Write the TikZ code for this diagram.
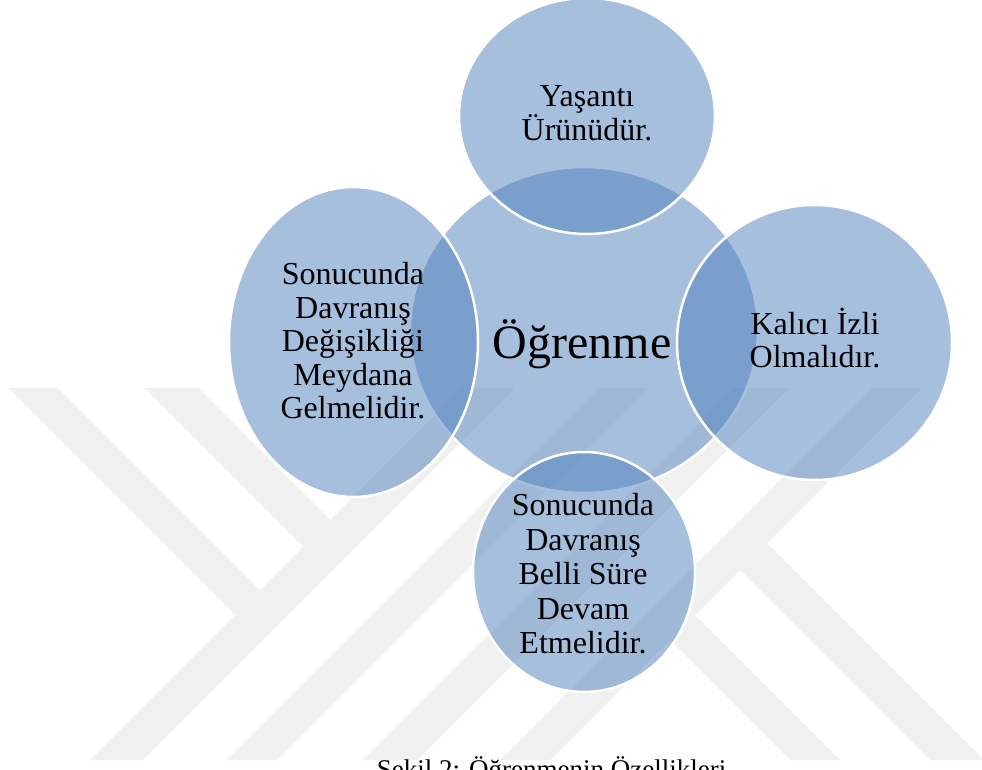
\documentclass[tikz,border=0pt]{standalone}
\usepackage{fontspec}
\setmainfont{Liberation Serif}
\usetikzlibrary{shapes.geometric}
\definecolor{bubblefill}{RGB}{79,129,189}
\definecolor{wmgray}{RGB}{240,240,240}
\begin{document}
\begin{tikzpicture}[x=1pt,y=-1pt,
  bubble/.style={ellipse, inner sep=0pt, fill=bubblefill, fill opacity=0.5,
                 draw=white, draw opacity=1, line width=2.5pt},
  lbl/.style={align=center, font=\fontsize{32}{33.5}\selectfont, text=black, inner sep=0pt},
  wmband/.style={fill=wmgray, draw=none}]
\clip (0,0) rectangle (982,770);
\fill[white] (0,0) rectangle (982,770);
% watermark
\begin{scope}
  \clip (0,388) rectangle (982,760);
  \fill[wmband] (8,388) -- (58,388) -- (260,590) -- (235,615) -- cycle;
  \fill[wmband] (145,388) -- (198,388) -- (330,520) -- (303.5,546.5) -- cycle;
  \fill[wmband] (462,388) -- (515,388) -- (143,760) -- (90,760) -- cycle;
  \fill[wmband] (599,388) -- (649,388) -- (277,760) -- (227,760) -- cycle;
  \fill[wmband] (735,388) -- (789,388) -- (417,760) -- (363,760) -- cycle;
  \fill[wmband] (872,388) -- (922,388) -- (550,760) -- (500,760) -- cycle;
  \fill[wmband] (767,543) -- (984,760) -- (930,760) -- (740,570) -- cycle;
  \fill[wmband] (695,615) -- (840,760) -- (790,760) -- (670,640) -- cycle;
\end{scope}
% bubbles
\node[bubble, minimum width=348pt, minimum height=326pt] (center) at (584,330) {};
\node[bubble, minimum width=256pt, minimum height=236pt] (top) at (587,116) {};
\node[bubble, minimum width=249pt, minimum height=310pt] (left) at (353.5,342) {};
\node[bubble, minimum width=275pt, minimum height=275pt] (right) at (814.5,342.5) {};
\node[bubble, minimum width=222pt, minimum height=240pt] (bottom) at (584,572) {};
% labels
\node[inner sep=0pt, anchor=base, font=\fontsize{48}{52}\selectfont] (centertext) at (582,358) {Öğrenme};
\node[lbl, font=\fontsize{32}{32}\selectfont] (toptext) at (587,113) {Yaşantı\\Ürünüdür.};
\node[lbl] (lefttext) at (353,341) {Sonucunda\\Davranış\\Değişikliği\\Meydana\\Gelmelidir.};
\node[lbl, font=\fontsize{32}{33}\selectfont] (righttext) at (815,338) {Kalıcı İzli\\Olmalıdır.};
\node[lbl, font=\fontsize{32}{34.5}\selectfont] (bottomtext) at (583,574) {Sonucunda\\Davranış\\Belli Süre\\Devam\\Etmelidir.};
% caption (cut off by the lower edge, as in the reference)
\node[inner sep=0pt, anchor=base, font=\fontsize{27}{30}\selectfont] (caption) at (551.5,778) {Şekil 2: Öğrenmenin Özellikleri};
\end{tikzpicture}
\end{document}
